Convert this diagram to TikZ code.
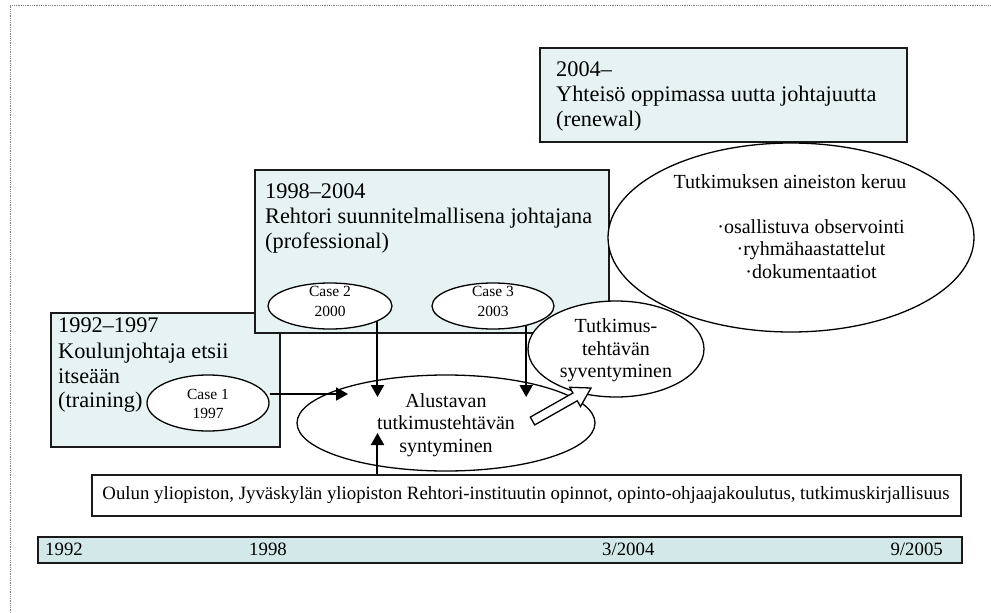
\documentclass[tikz,border=0pt]{standalone}
\usepackage{fontspec}
\setmainfont{Liberation Serif}
\usetikzlibrary{arrows.meta,shapes.geometric}
\definecolor{boxfill}{HTML}{E7F3F3}
\definecolor{barfill}{HTML}{D3E9E9}
\definecolor{edge}{HTML}{1A1A1A}
\begin{document}
\begin{tikzpicture}[x=1pt,y=-1pt,
  era/.style={rectangle, draw=edge, line width=1.5pt, fill=boxfill, inner sep=0pt, anchor=north west},
  title/.style={anchor=base west, inner sep=0pt, font=\fontsize{22.3}{25}\selectfont},
  oval/.style={ellipse, draw=black, line width=1.3pt, inner sep=0pt},
  bodyline/.style={anchor=base, inner sep=0pt, font=\fontsize{20}{22.5}\selectfont},
  axislabel/.style={inner sep=0pt, font=\fontsize{18.8}{22}\selectfont},
  caseline/.style={anchor=base, inner sep=0pt, font=\fontsize{15.5}{20}\selectfont},
  arr/.style={line width=2pt, -{Triangle[length=12pt,width=13pt]}},
]
\useasboundingbox (0,0) rectangle (991,613);

% page frame
\draw[gray, densely dotted, line width=0.8pt] (10,613) -- (10,5) -- (991,5);

% 2004- period
\node[era, minimum width=367pt, minimum height=94pt] (renewal) at (539,47) {};
\node[title] (ren1) at (556,76) {2004–};
\node[title] (ren2) at (556,101) {Yhteisö oppimassa uutta johtajuutta};
\node[title] (ren3) at (556,126) {(renewal)};

% 1992-1997 period
\node[era, minimum width=229pt, minimum height=134pt] (training) at (50,312) {};
\node[title] (tr1) at (58,332) {1992–1997};
\node[title] (tr2) at (58,358) {Koulunjohtaja etsii};
\node[title] (tr3) at (58,383) {itseään};
\node[title] (tr4) at (58,407) {(training)};

% 1998-2004 period
\node[era, minimum width=354pt, minimum height=163pt] (professional) at (254,169) {};
\node[title] (pr1) at (265,198) {1998–2004};
\node[title] (pr2) at (265,223) {Rehtori suunnitelmallisena johtajana};
\node[title] (pr3) at (265,248) {(professional)};

% cases
\node[oval, fill=white, minimum width=122pt, minimum height=56pt] (case1) at (208,403) {};
\node[caseline] (c1a) at (208,399) {Case 1};
\node[caseline] (c1b) at (208,418) {1997};
\node[oval, fill=white, minimum width=124pt, minimum height=46pt] (case2) at (330,306) {};
\node[caseline] (c2a) at (330,296) {Case 2};
\node[caseline] (c2b) at (330,316) {2000};
\node[oval, fill=white, minimum width=122pt, minimum height=46pt] (case3) at (493,306) {};
\node[caseline] (c3a) at (493,296) {Case 3};
\node[caseline] (c3b) at (493,316) {2003};

% data collection
\node[oval, fill=white, minimum width=366pt, minimum height=189pt] (data) at (791,237.5) {};
\node[bodyline] (d0) at (790,188) {Tutkimuksen aineiston keruu};
\node[bodyline] (d1) at (811,233) {·osallistuva observointi};
\node[bodyline] (d2) at (811,255.5) {·ryhmähaastattelut};
\node[bodyline] (d3) at (811,278) {·dokumentaatiot};

% deepening of the research task
\node[oval, fill=white, minimum width=176pt, minimum height=96pt] (deep) at (616,349) {};
\node[bodyline] (s1) at (616,332) {Tutkimus-};
\node[bodyline] (s2) at (616,355) {tehtävän};
\node[bodyline] (s3) at (616,377) {syventyminen};

% emergence of the preliminary research task
\node[oval, minimum width=298pt, minimum height=96pt] (emerge) at (446,423) {};
\node[bodyline] (e1) at (446,407) {Alustavan};
\node[bodyline] (e2) at (446,429) {tutkimustehtävän};
\node[bodyline] (e3) at (446,452) {syntyminen};

% studies and literature
\node[rectangle, draw=edge, line width=1.5pt, fill=white, minimum width=869pt, minimum height=41pt,
      inner sep=0pt] (studies) at (526.5,495.5) {};
\node[axislabel, anchor=base] (stxt) at (526,499)
  {Oulun yliopiston, Jyväskylän yliopiston Rehtori-instituutin opinnot, opinto-ohjaajakoulutus, tutkimuskirjallisuus};

% time axis
\node[rectangle, draw=edge, line width=1.5pt, fill=barfill, minimum width=924pt, minimum height=26pt,
      inner sep=0pt, anchor=north west] (axis) at (37,536) {};
\node[axislabel, anchor=base west] (t1) at (45,555) {1992};
\node[axislabel, anchor=base west] (t2) at (249,555) {1998};
\node[axislabel, anchor=base west] (t3) at (602,555) {3/2004};
\node[axislabel, anchor=base east] (t4) at (943,555) {9/2005};

% connectors
\coordinate (tipA) at (348,394);
\coordinate (tipB) at (0,397);
\coordinate (tipC) at (0,433);
\draw[arr] (case1.east |- tipA) -- (tipA);
\draw[arr] (case2.-18) -- (case2.-18 |- tipB);
\draw[arr] (case3.-31) -- (case3.-31 |- tipB);
\draw[arr] (case2.-18 |- studies.north) -- (case2.-18 |- tipC);

% hollow block arrow towards the deepening stage
\draw[line width=1.3pt, fill=white, line join=miter]
  (534.7,424.9) -- (577.3,400.8) -- (580.5,406.5) -- (591,388)
  -- (569.7,387.3) -- (572.9,393.0) -- (530.3,417.1) -- cycle;
\end{tikzpicture}
\end{document}
